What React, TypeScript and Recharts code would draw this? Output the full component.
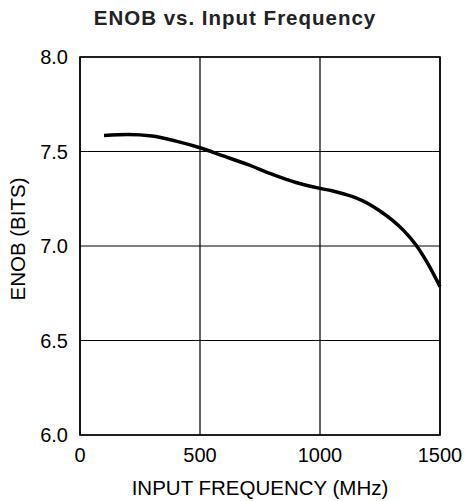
import React from "react";
import {
  LineChart,
  Line,
  XAxis,
  YAxis,
  CartesianGrid,
  ReferenceArea,
  Label,
} from "recharts";

const frequencies = [100, 200, 300, 400, 500, 600, 700, 800, 900, 1000, 1050, 1100, 1150, 1200, 1250, 1300, 1350, 1400, 1450, 1500];
const enobValues = [7.585, 7.59, 7.582, 7.555, 7.52, 7.475, 7.43, 7.38, 7.336, 7.305, 7.292, 7.275, 7.255, 7.225, 7.185, 7.138, 7.08, 7.005, 6.905, 6.785];
const xTicks = [0, 500, 1000, 1500];
const yTicks = [6.0, 6.5, 7.0, 7.5, 8.0];

const chartData = frequencies.map((f, i) => ({ freq: f, enob: enobValues[i] }));

const FONT = '"Liberation Sans", Arial, Helvetica, sans-serif';

// rotated y-axis title, nudged a little above the plot centre like the original
const YTitle = (props: any) => {
  const vb = props.viewBox || { x: 0, y: 0, width: 0, height: 0 };
  const cx = vb.x + 17.5;
  const cy = vb.y + vb.height / 2 - 7;
  return (
    <text
      x={cx}
      y={cy}
      transform={`rotate(-90, ${cx}, ${cy})`}
      textAnchor="middle"
      dominantBaseline="central"
      fill="#000"
      fontSize={20.5}
      fontFamily={FONT}
    >
      ENOB (BITS)
    </text>
  );
};

export default function App() {
  return (
    <div style={{ position: "absolute", left: 0, top: 0, width: 465, height: 501, background: "#fff", fontFamily: FONT }}>
      <div
        style={{
          position: "absolute",
          left: 0,
          top: 8,
          width: 470,
          textAlign: "center",
          fontSize: 20.5,
          lineHeight: 1,
          fontWeight: "bold",
          letterSpacing: 1,
          color: "#222",
        }}
      >
        ENOB vs. Input Frequency
      </div>
      <LineChart
        width={465}
        height={501}
        data={chartData}
        margin={{ top: 57, right: 25, left: 0, bottom: 0 }}
      >
        <CartesianGrid stroke="#000" strokeWidth={1.2} horizontalValues={yTicks} verticalValues={xTicks} />
        <ReferenceArea x1={0} x2={1500} y1={6} y2={8} fill="none" stroke="#000" strokeWidth={1.6} ifOverflow="visible" />
        <XAxis
          dataKey="freq"
          type="number"
          domain={[0, 1500]}
          ticks={xTicks}
          height={66}
          axisLine={false}
          tickLine={false}
          tickMargin={7}
          tick={{ fill: "#000", fontSize: 20, fontFamily: FONT }}
        >
          <Label value="INPUT FREQUENCY (MHz)" position="insideBottom" offset={6} fill="#000" fontSize={20.5} fontFamily={FONT} />
        </XAxis>
        <YAxis
          type="number"
          domain={[6, 8]}
          ticks={yTicks}
          width={80}
          axisLine={false}
          tickLine={false}
          tickMargin={6}
          tickFormatter={(v: number) => v.toFixed(1)}
          tick={{ fill: "#000", fontSize: 20, fontFamily: FONT }}
        >
          <Label content={YTitle} />
        </YAxis>
        <Line
          type="monotone"
          dataKey="enob"
          stroke="#000"
          strokeWidth={3.5}
          dot={false}
          isAnimationActive={false}
        />
      </LineChart>
    </div>
  );
}
